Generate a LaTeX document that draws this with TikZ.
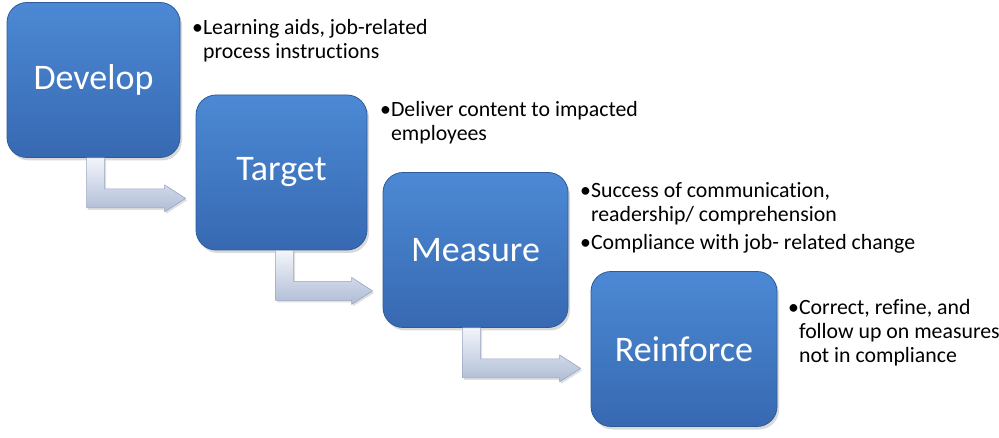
\documentclass[tikz,border=0pt]{standalone}
\usepackage{fontspec}
\setmainfont{Carlito}[Ligatures=NoCommon]
\usetikzlibrary{calc,shadows}
\definecolor{boxtop}{HTML}{4C89D4}
\definecolor{boxbot}{HTML}{3769B2}
\definecolor{boxline}{HTML}{2E5B98}
\definecolor{arrtop}{HTML}{F2F5FA}
\definecolor{arrbot}{HTML}{AFBCD6}
\definecolor{arrline}{HTML}{98A6C0}
% bent block arrow from the foot of one step to the side of the next
\newcommand{\bentarrow}[2]{%
  \draw[bent] let \p1=(#1.south west), \p2=(#2.west) in
    ({\x1+80pt},\y1) -- ({\x1+98pt},\y1) -- ({\x1+98pt},{\y1-31pt})
    -- ({\x2-31pt},{\y1-31pt}) -- ({\x2-31pt},{\y1-27pt}) -- ({\x2-10pt},{\y1-40.5pt})
    -- ({\x2-31pt},{\y1-54pt}) -- ({\x2-31pt},{\y1-50pt}) -- ({\x1+80pt},{\y1-50pt}) -- cycle;}
\begin{document}
\begin{tikzpicture}[x=1pt,y=-1pt,line join=round,font=\fontsize{21.8}{24}\selectfont]
\tikzset{stepbox/.style={draw=boxline,line width=0.8pt,rounded corners=20pt,top color=boxtop,bottom color=boxbot,
    minimum height=155pt,text=white,font=\fontsize{36}{40}\selectfont,
    drop shadow={opacity=0.3,shadow xshift=2pt,shadow yshift=-3pt}},
  bent/.style={draw=arrline,line width=0.6pt,top color=arrtop,bottom color=arrbot,
    drop shadow={opacity=0.25,shadow xshift=1.5pt,shadow yshift=-2pt}},
  note/.style={anchor=base west,inner sep=0pt}}
\useasboundingbox (0,0) rectangle (999,438);
\node[stepbox,minimum width=173pt] (develop) at (93.5,80) {Develop};
\node[stepbox,minimum width=171pt] (target) at (281.5,172.5) {Target};
\node[stepbox,minimum width=185pt] (measure) at (475.5,250) {Measure};
\node[stepbox,minimum width=186pt] (reinforce) at (684,349) {Reinforce};
\foreach \a/\b in {develop/target,target/measure,measure/reinforce} \bentarrow{\a}{\b};
\node[note] (devnote) at (192,35) {\begin{tabular}[t]{@{}l@{}l@{}}\textbullet&Learning aids, job-related\\&process instructions\end{tabular}};
\node[note] (tarnote) at (380,117) {\begin{tabular}[t]{@{}l@{}l@{}}\textbullet&Deliver content to impacted\\&employees\end{tabular}};
\node[note] (meanote) at (580,198) {\begin{tabular}[t]{@{}l@{}l@{}}\textbullet&Success of communication,\\&readership/ comprehension\\[4pt]\textbullet&Compliance with job- related change\end{tabular}};
\node[note] (reinote) at (788,315) {\begin{tabular}[t]{@{}l@{}l@{}}\textbullet&Correct, refine, and\\&follow up on measures\\&not in compliance\end{tabular}};
\end{tikzpicture}
\end{document}
